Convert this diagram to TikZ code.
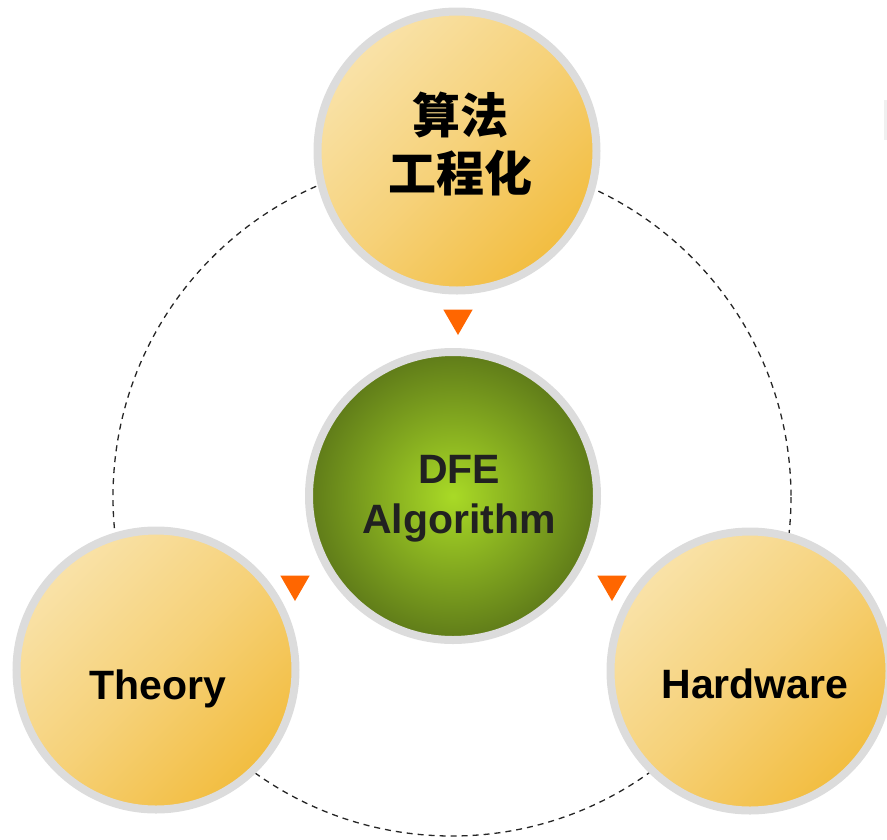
\documentclass[tikz,border=0pt]{standalone}
\usepackage{fontspec}
\setmainfont{Liberation Sans}
\newfontfamily\cjk{Noto Sans CJK SC}
\usetikzlibrary{shapes.geometric}

\definecolor{ringgray}{HTML}{DCDCDC}
\definecolor{sunlight}{HTML}{F9E2A8}
\definecolor{sundark}{HTML}{F2BD40}
\definecolor{leafin}{HTML}{A9DA26}
\definecolor{leafout}{HTML}{5F7B19}
\definecolor{markorange}{HTML}{FF6600}

\tikzset{
    sunball/.style={circle, draw=ringgray, line width=8pt, minimum size=279pt, inner sep=0pt,
        top color=sunlight, bottom color=sundark, middle color=sunlight!55!sundark, shading angle=45},
    leafball/.style={circle, draw=ringgray, line width=8pt, minimum size=288pt, inner sep=0pt,
        inner color=leafin, outer color=leafout},
    balltext/.style={font=\bfseries\fontsize{41}{50}\selectfont, align=center},
    marker/.style={regular polygon, regular polygon sides=3, shape border rotate=180,
        fill=markorange, minimum size=34pt, inner sep=0pt}
}

\begin{document}
\begin{tikzpicture}[x=1pt, y=-1pt]
\useasboundingbox (0,0) rectangle (887,839);

\coordinate (ring) at (452,497);
\draw[dashed, line width=1.3pt, dash pattern=on 6pt off 5pt, black!85] (ring) circle (339);

% the three outer topics and the core
\node[sunball] (algo) at (457,151) {};
\node[balltext, font=\cjk\bfseries\fontsize{48}{58}\selectfont] (algotxt) at (460,144) {算法\\工程化};

\node[sunball] (theory) at (156,670) {};
\node[balltext] (theorytxt) at (158,689) {Theory};

\node[sunball] (hardware) at (750,671) {};
\node[balltext] (hardwaretxt) at (755,684) {Hardware};

\node[leafball] (dfe) at (453,496) {};
\node[balltext, text=black!87] (dfetxt) at (459,499) {DFE\\Algorithm};

% orange markers
\node[marker] (marktop) at (458,318) {};
\node[marker] (markleft) at (295,584) {};
\node[marker] (markright) at (612,584) {};

\fill[black!6] (884,100) rectangle (887,140);

\end{tikzpicture}
\end{document}
